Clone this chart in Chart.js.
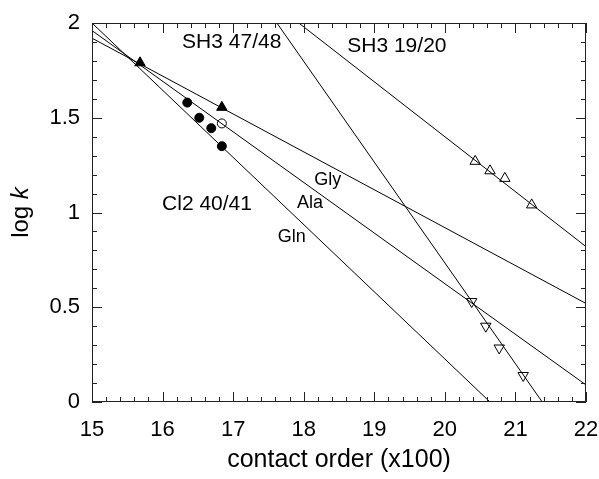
<!DOCTYPE html>
<html>
<head>
<meta charset="utf-8">
<script src="https://cdn.jsdelivr.net/npm/chart.js@4.4.1/dist/chart.umd.min.js"></script>
<style>
html, body { margin: 0; padding: 0; background: #fff; }
#wrap { width: 599px; height: 479px; }
</style>
</head>
<body>
<div id="wrap"><canvas id="chart"></canvas></div>
<script>
// fitted lines (endpoints, clipped by the chart area)
const glyFitX = [15, 22];
const glyFitY = [1.92, 0.52];
const alaFitX = [15, 22];
const alaFitY = [1.96, 0.09];
const glnFitX = [15, 20.64];
const glnFitY = [2.0, 0];
const sh3a_FitX = [17.62, 21.38];   // SH3 47/48
const sh3a_FitY = [2.0, 0];
const sh3b_FitX = [17.93, 22];      // SH3 19/20
const sh3b_FitY = [2.0, 0.82];

// measured points
const glyX = [15.68, 16.84];
const glyY = [1.79, 1.555];
const alaX = [16.84];
const alaY = [1.47];
const glnX = [16.35, 16.52, 16.69, 16.84];
const glnY = [1.58, 1.50, 1.445, 1.35];
const sh3aX = [20.38, 20.58, 20.77, 21.11];
const sh3aY = [0.53, 0.40, 0.285, 0.14];
const sh3bX = [20.43, 20.64, 20.85, 21.23];
const sh3bY = [1.27, 1.22, 1.18, 1.04];

const xTicks = [15, 16, 17, 18, 19, 20, 21, 22];
const yTicks = [0, 0.5, 1, 1.5, 2];

const labels = [
    { text: 'SH3 47/48', x: 16.98, y: 1.90, size: 21 },
    { text: 'SH3 19/20', x: 19.32, y: 1.88, size: 21 },
    { text: 'Cl2 40/41', x: 16.63, y: 1.045, size: 21 },
    { text: 'Gly', x: 18.34, y: 1.17, size: 18 },
    { text: 'Ala', x: 18.09, y: 1.05, size: 18 },
    { text: 'Gln', x: 17.83, y: 0.87, size: 18 }
];

const FONT = '"Liberation Sans", Arial, Helvetica, sans-serif';
const toPts = (xs, ys) => xs.map((x, i) => ({ x: x, y: ys[i] }));

function fitLine(xs, ys) {
    return {
        type: 'line', data: toPts(xs, ys), borderColor: '#000', borderWidth: 1,
        pointRadius: 0, showLine: true, fill: false
    };
}

function marks(xs, ys, style, filled, radius, rotation) {
    return {
        type: 'scatter', data: toPts(xs, ys), showLine: false,
        pointStyle: style, pointRadius: radius, pointRotation: rotation || 0,
        backgroundColor: filled ? '#000' : '#fff', borderColor: '#000', borderWidth: 1
    };
}

const framePlugin = {
    id: 'frame',
    afterDatasetsDraw(chart) {
        const ctx = chart.ctx;
        const a = chart.chartArea;
        const xs = chart.scales.x, ys = chart.scales.y;
        ctx.save();
        ctx.strokeStyle = '#222';
        ctx.lineWidth = 1;
        ctx.strokeRect(a.left + 0.5, a.top + 0.5, a.right - a.left - 1, a.bottom - a.top - 1);

        ctx.beginPath();
        for (let v = 15; v <= 22.001; v += 0.2) {
            const major = Math.abs(v - Math.round(v)) < 0.01;
            const len = major ? 10 : 5;
            const px = Math.round(xs.getPixelForValue(v)) + 0.5;
            ctx.moveTo(px, a.bottom); ctx.lineTo(px, a.bottom - len);
            ctx.moveTo(px, a.top); ctx.lineTo(px, a.top + len);
        }
        for (let v = 0; v <= 2.001; v += 0.1) {
            const major = Math.abs(v * 2 - Math.round(v * 2)) < 0.01;
            const len = major ? 10 : 5;
            const py = Math.round(ys.getPixelForValue(v)) + 0.5;
            ctx.moveTo(a.left, py); ctx.lineTo(a.left + len, py);
            ctx.moveTo(a.right, py); ctx.lineTo(a.right - len, py);
        }
        ctx.stroke();

        // in-plot labels
        ctx.fillStyle = '#000';
        ctx.textAlign = 'center';
        ctx.textBaseline = 'middle';
        labels.forEach(l => {
            ctx.font = l.size + 'px ' + FONT;
            ctx.fillText(l.text, xs.getPixelForValue(l.x), ys.getPixelForValue(l.y));
        });

        // y axis title: log k (k italic)
        ctx.translate(21, (a.top + a.bottom) / 2);
        ctx.rotate(-Math.PI / 2);
        ctx.textAlign = 'left';
        const f1 = '24px ' + FONT, f2 = 'italic 24px ' + FONT;
        ctx.font = f1;
        const w1 = ctx.measureText('log ').width;
        ctx.font = f2;
        const w2 = ctx.measureText('k').width;
        const start = -(w1 + w2) / 2;
        ctx.font = f1;
        ctx.fillText('log ', start, 0);
        ctx.font = f2;
        ctx.fillText('k', start + w1, 0);
        ctx.restore();
    }
};

new Chart(document.getElementById('chart'), {
    data: {
        datasets: [
            fitLine(glyFitX, glyFitY),
            fitLine(alaFitX, alaFitY),
            fitLine(glnFitX, glnFitY),
            fitLine(sh3a_FitX, sh3a_FitY),
            fitLine(sh3b_FitX, sh3b_FitY),
            marks(glyX, glyY, 'triangle', true, 6),
            marks(alaX, alaY, 'circle', false, 4.5),
            marks(glnX, glnY, 'circle', true, 4.5),
            marks(sh3aX, sh3aY, 'triangle', false, 6, 180),
            marks(sh3bX, sh3bY, 'triangle', false, 6)
        ]
    },
    options: {
        responsive: true,
        maintainAspectRatio: false,
        animation: false,
        layout: { padding: { top: 23, right: 13, left: 0, bottom: 0 } },
        plugins: { legend: { display: false }, tooltip: { enabled: false } },
        scales: {
            x: {
                type: 'linear', min: 15, max: 22,
                afterBuildTicks: s => { s.ticks = xTicks.map(v => ({ value: v })); },
                afterFit: s => { s.height = 77; s.paddingLeft = 0; s.paddingRight = 0; },
                grid: { display: false, drawTicks: false },
                border: { display: false },
                ticks: { color: '#000', padding: 15, font: { family: FONT, size: 22 } },
                title: {
                    display: true, text: 'contact order (x100)', color: '#000',
                    font: { family: FONT, size: 25 }, padding: { top: 2, bottom: 4 }
                }
            },
            y: {
                type: 'linear', min: 0, max: 2,
                afterBuildTicks: s => { s.ticks = yTicks.map(v => ({ value: v })); },
                afterFit: s => { s.width = 92; s.paddingTop = 0; s.paddingBottom = 0; },
                grid: { display: false, drawTicks: false },
                border: { display: false },
                ticks: {
                    color: '#000', padding: 12, font: { family: FONT, size: 22 },
                    callback: v => String(v)
                }
            }
        }
    },
    plugins: [framePlugin]
});
</script>
</body>
</html>
